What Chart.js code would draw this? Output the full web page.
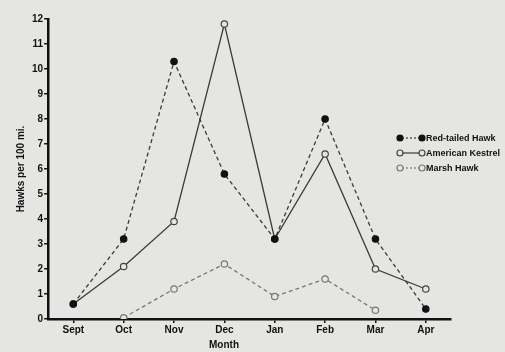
<!DOCTYPE html>
<html>
<head>
<meta charset="utf-8">
<script src="https://cdn.jsdelivr.net/npm/chart.js@4"></script>
<style>
  html, body { margin:0; padding:0; background:#e5e5e3; }
  #wrap { width:505px; height:352px; position:relative; }
</style>
</head>
<body>
<div id="wrap"><canvas id="hawkChart"></canvas></div>
<script>
const MONTHS = ['Sept','Oct','Nov','Dec','Jan','Feb','Mar','Apr'];
const RED_TAILED = [0.6, 3.2, 10.3, 5.8, 3.2, 8.0, 3.2, 0.4];
const KESTREL    = [0.6, 2.1, 3.9, 11.8, 3.2, 6.6, 2.0, 1.2];
const MARSH      = [null, 0.05, 1.2, 2.2, 0.9, 1.6, 0.35, null];
const Y_TICKS    = [0,1,2,3,4,5,6,7,8,9,10,11,12];

const BG = '#e5e5e3';
const FONT = 'Liberation Sans';

const SERIES = [
  { label:'Red-tailed Hawk',  data:RED_TAILED, line:'#3a3a3a', dash:[4,3], fill:'#111', point:'#111' },
  { label:'American Kestrel', data:KESTREL,    line:'#3a3a3a', dash:[],    fill:BG,     point:'#444' },
  { label:'Marsh Hawk',       data:MARSH,      line:'#777',    dash:[4,3], fill:BG,     point:'#777' },
];

// legend drawn by hand: marker - line - marker, then the name
const legendPlugin = {
  id:'hawkLegend',
  afterDraw(chart) {
    const ctx = chart.ctx;
    ctx.save();
    SERIES.forEach((s, i) => {
      const y = 138 + i*15;
      ctx.strokeStyle = s.line; ctx.lineWidth = 1.2;
      ctx.setLineDash(s.dash.length ? [2,2] : []);
      ctx.beginPath(); ctx.moveTo(402, y); ctx.lineTo(420, y); ctx.stroke();
      ctx.setLineDash([]);
      [400, 422].forEach(x => {
        ctx.beginPath(); ctx.arc(x, y, 3, 0, Math.PI*2);
        ctx.fillStyle = s.fill; ctx.fill();
        ctx.strokeStyle = s.point; ctx.lineWidth = 1.2; ctx.stroke();
      });
      ctx.fillStyle = '#111';
      ctx.font = 'bold 9px ' + FONT;
      ctx.textBaseline = 'middle';
      ctx.fillText(s.label, 426, y + 0.5);
    });
    // x axis title sits under Dec/Jan
    ctx.font = 'bold 10px ' + FONT;
    ctx.textAlign = 'center';
    ctx.textBaseline = 'middle';
    ctx.fillText('Month', 224, 345);
    ctx.restore();
  }
};

new Chart(document.getElementById('hawkChart'), {
  type:'line',
  data:{
    labels: MONTHS,
    datasets: SERIES.map(s => ({
      label:s.label, data:s.data,
      borderColor:s.line, borderWidth:1.3, borderDash:s.dash,
      pointRadius:3.2, pointBorderWidth:1.2,
      pointBackgroundColor:s.fill, pointBorderColor:s.point,
      tension:0, spanGaps:false,
    })),
  },
  options:{
    responsive:true, maintainAspectRatio:false, animation:false,
    layout:{ padding:{ top:19, right:54, bottom:15, left:15 } },
    plugins:{ legend:{ display:false }, tooltip:{ enabled:false } },
    scales:{
      x:{
        offset:true,
        grid:{ drawOnChartArea:false, drawTicks:true, tickLength:4, color:'#111', lineWidth:1.5 },
        border:{ display:true, color:'#111', width:2.5 },
        ticks:{ font:{ family:FONT, size:10, weight:'bold' }, color:'#111', padding:1 },
      },
      y:{
        min:0, max:12,
        afterBuildTicks: axis => { axis.ticks = Y_TICKS.map(v => ({ value:v })); },
        grid:{ drawOnChartArea:false, drawTicks:true, tickLength:4, color:'#111', lineWidth:1.5 },
        border:{ display:true, color:'#111', width:2.5 },
        ticks:{ font:{ family:FONT, size:10, weight:'bold' }, color:'#111', padding:1 },
        title:{ display:true, text:'Hawks per 100 mi.', font:{ family:FONT, size:10, weight:'bold' }, color:'#111', padding:{ top:0, bottom:4 } },
      },
    },
  },
  plugins:[legendPlugin],
});
</script>
</body>
</html>
